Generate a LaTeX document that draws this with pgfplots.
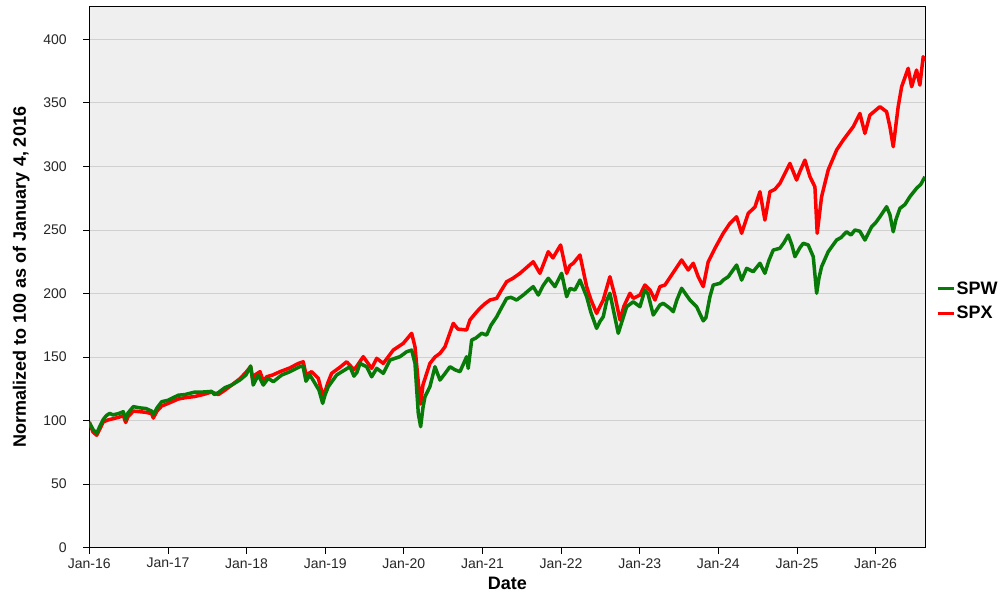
\documentclass[border=0pt]{standalone}
\usepackage{pgfplots}
\pgfplotsset{compat=1.18}
\usepackage{fontspec}
\setmainfont{Liberation Sans}
\definecolor{spwgreen}{RGB}{8,122,8}
\definecolor{spxred}{RGB}{255,0,0}
\definecolor{bgray}{RGB}{239,239,239}
\definecolor{ggray}{RGB}{208,208,208}
\begin{document}
\begin{tikzpicture}
\useasboundingbox (-89.3pt,-52.3pt) rectangle (910.7pt,547.7pt);
\begin{axis}[
  at={(0pt,0pt)}, anchor=south west,
  scale only axis, width=836pt, height=541.4pt,
  xmin=2016, xmax=2026.632, ymin=0, ymax=426,
  axis background/.style={fill=bgray},
  axis line style={black, line width=0.8pt},
  ymajorgrids, major grid style={ggray, line width=0.8pt},
  xtick={2016,2017,2018,2019,2020,2021,2022,2023,2024,2025,2026},
  xticklabels={Jan-16,Jan-17,Jan-18,Jan-19,Jan-20,Jan-21,Jan-22,Jan-23,Jan-24,Jan-25,Jan-26},
  ytick={0,50,100,150,200,250,300,350,400},
  tick align=outside, major tick length=6pt,
  xtick pos=bottom, ytick pos=left,
  tick style={black, line width=0.8pt},
  /pgf/number format/assume math mode=true,
  ticklabel style={font=\fontsize{14}{16}\selectfont, text=black!85},
  xticklabel style={yshift=-1pt},
  yticklabel style={xshift=-13pt},
  xlabel={Date}, ylabel={Normalized to 100 as of January 4, 2016},
  label style={font=\fontsize{18}{20}\selectfont\bfseries},
  xlabel style={at={(axis description cs:0.5,-0.0763)}, anchor=base},
  ylabel style={at={(axis description cs:-0.0814,0.5)}, anchor=center},
  legend style={draw=none, fill=none, at={(axis description cs:1.0128,0.456)}, anchor=west,
    font=\fontsize{18}{20}\selectfont\bfseries, row sep=7.5pt, inner sep=0pt,
    nodes={inner sep=1.5pt}},
  legend cell align=left,
  legend image code/.code={\draw[#1, line width=3pt] (0pt,0pt) -- (16pt,0pt);},
  reverse legend,
]
\addplot[spxred, line width=3.5pt, line join=round] coordinates {
(2016.000,99) (2016.022,95) (2016.047,91) (2016.094,88.5) (2016.123,92) (2016.178,99)
(2016.238,100.5) (2016.301,101.5) (2016.369,102.5) (2016.432,104) (2016.463,98.5) (2016.492,103)
(2016.560,107.5) (2016.645,107) (2016.721,106.5) (2016.793,105.5) (2016.814,102) (2016.861,107.5)
(2016.921,111.5) (2017.001,113.5) (2017.132,117) (2017.217,118) (2017.344,119) (2017.446,120.5)
(2017.556,122.5) (2017.640,120.5) (2017.726,124) (2017.811,128) (2017.916,133) (2017.993,138)
(2018.052,142.4) (2018.085,130) (2018.107,135.9) (2018.171,138.5) (2018.213,131) (2018.256,134.5)
(2018.336,136) (2018.425,138.5) (2018.552,141.5) (2018.658,145) (2018.721,146.3) (2018.756,136)
(2018.828,138.5) (2018.912,133.3) (2018.976,118.5) (2019.035,130) (2019.082,137.2) (2019.188,142)
(2019.273,146.3) (2019.366,140) (2019.404,143) (2019.484,150.3) (2019.591,141.1) (2019.655,149)
(2019.739,145) (2019.866,155.5) (2019.993,160.8) (2020.100,168.7) (2020.142,158.1) (2020.184,130)
(2020.214,113) (2020.243,128) (2020.269,133) (2020.332,145) (2020.396,150) (2020.460,152.9)
(2020.523,158) (2020.629,176.5) (2020.688,172) (2020.799,171.3) (2020.841,179.2) (2020.905,184)
(2020.968,188.4) (2021.032,192) (2021.095,194.9) (2021.181,196.2) (2021.235,202) (2021.308,209.3)
(2021.388,212) (2021.477,215.9) (2021.553,220) (2021.646,225) (2021.731,215.9) (2021.782,224)
(2021.837,232.9) (2021.896,228) (2021.994,238.2) (2022.071,215.9) (2022.113,222) (2022.155,223.8)
(2022.240,230.3) (2022.325,205.4) (2022.380,195) (2022.452,184.4) (2022.536,194.9) (2022.621,213.2)
(2022.685,198) (2022.749,179.2) (2022.799,190) (2022.876,200.2) (2022.918,196.2) (2023.003,198.8)
(2023.066,206.7) (2023.130,202.8) (2023.194,194.9) (2023.257,205.4) (2023.321,206.7) (2023.406,214.6)
(2023.533,226.4) (2023.617,218.5) (2023.681,223.8) (2023.744,213.2) (2023.808,205.4) (2023.871,225)
(2023.957,235.6) (2024.062,247.4) (2024.147,255.2) (2024.232,260.4) (2024.296,247.4) (2024.380,263.1)
(2024.465,268) (2024.529,280.1) (2024.592,257.8) (2024.656,280.1) (2024.719,282) (2024.783,286.7)
(2024.825,291.9) (2024.910,302.4) (2024.995,289.3) (2025.037,296) (2025.101,305) (2025.165,291.9)
(2025.228,284) (2025.257,247.4) (2025.313,276.2) (2025.397,297.2) (2025.504,312.9) (2025.588,320.7)
(2025.715,331.2) (2025.800,341.7) (2025.864,326) (2025.927,340.4) (2026.055,347) (2026.140,343)
(2026.182,331.2) (2026.224,315.5) (2026.287,347) (2026.331,362.7) (2026.414,377.2) (2026.458,362.7)
(2026.521,375.8) (2026.563,364) (2026.605,386.3) (2026.627,383)
};
\addlegendentry{SPX}
\addplot[spwgreen, line width=3.5pt, line join=round] coordinates {
(2016.000,98) (2016.022,96) (2016.047,93) (2016.094,90) (2016.123,94) (2016.178,101)
(2016.218,104) (2016.260,105.7) (2016.301,104.5) (2016.369,105.5) (2016.432,107) (2016.463,101) (2016.492,106)
(2016.560,111) (2016.645,110) (2016.721,109.5) (2016.793,107.5) (2016.814,104.4) (2016.861,110)
(2016.921,114.9) (2017.001,116) (2017.132,120) (2017.217,120.5) (2017.344,122.5) (2017.446,122.5)
(2017.556,123) (2017.590,120.5) (2017.640,122) (2017.726,126) (2017.811,128) (2017.916,132) (2017.993,136)
(2018.052,143) (2018.085,128) (2018.149,135.9) (2018.213,128) (2018.276,133.3) (2018.340,130.6)
(2018.447,135.9) (2018.552,138.5) (2018.679,142.5) (2018.717,143) (2018.756,131) (2018.806,135.9)
(2018.870,129.3) (2018.921,124) (2018.968,113.6) (2018.997,120) (2019.039,126.7) (2019.146,135.9)
(2019.226,139) (2019.315,142.4) (2019.366,135) (2019.404,138) (2019.442,145) (2019.527,142.4)
(2019.591,134.5) (2019.655,141.1) (2019.739,137.2) (2019.824,147.7) (2019.951,150.3) (2020.036,154.2)
(2020.100,155.5) (2020.142,145) (2020.184,105.7) (2020.214,95.2) (2020.243,110) (2020.269,118.8)
(2020.332,126.7) (2020.396,142.4) (2020.460,131.9) (2020.523,137) (2020.587,142.4) (2020.650,140)
(2020.714,138.5) (2020.799,150.3) (2020.819,141.1) (2020.863,163.4) (2020.917,165) (2020.990,168.7)
(2021.053,167.3) (2021.108,175) (2021.181,181.7) (2021.235,188) (2021.308,196.2) (2021.362,197)
(2021.435,194.9) (2021.519,198.8) (2021.579,202) (2021.646,205.4) (2021.710,198.8) (2021.769,206)
(2021.837,212) (2021.922,205.4) (2022.007,215.9) (2022.071,197.5) (2022.113,204) (2022.176,202.8)
(2022.240,210.6) (2022.325,197.5) (2022.380,185) (2022.452,172.6) (2022.494,178) (2022.536,181.7)
(2022.583,195) (2022.621,200.2) (2022.672,185) (2022.727,168.7) (2022.774,178) (2022.834,189.6)
(2022.918,193.5) (2023.003,189.6) (2023.066,202.8) (2023.104,200) (2023.172,183.1) (2023.257,191)
(2023.299,192.3) (2023.384,188.4) (2023.426,185.7) (2023.473,195) (2023.533,204.1) (2023.638,194.9)
(2023.724,189.6) (2023.766,184) (2023.808,178.5) (2023.842,181) (2023.893,197.5) (2023.935,206.7)
(2024.020,208) (2024.062,210.6) (2024.126,213.2) (2024.232,222.4) (2024.296,210.6) (2024.360,219.8)
(2024.443,217.2) (2024.529,223.8) (2024.592,215.9) (2024.643,226) (2024.698,234.2) (2024.783,235.6)
(2024.834,240) (2024.889,246) (2024.936,238) (2024.974,229) (2025.037,236) (2025.079,239.5)
(2025.143,238.2) (2025.207,229) (2025.228,215) (2025.250,200.2) (2025.279,212) (2025.313,221.1)
(2025.397,232.9) (2025.504,242.1) (2025.559,244) (2025.631,248.6) (2025.686,246) (2025.737,250)
(2025.800,249) (2025.864,242.1) (2025.949,252.5) (2026.004,256) (2026.055,260.4) (2026.140,268.3)
(2026.182,262) (2026.224,248.6) (2026.258,258) (2026.309,267) (2026.373,270) (2026.436,276.2)
(2026.521,282.8) (2026.576,286) (2026.627,291.9)
};
\addlegendentry{SPW}
\end{axis}
\end{tikzpicture}
\end{document}
